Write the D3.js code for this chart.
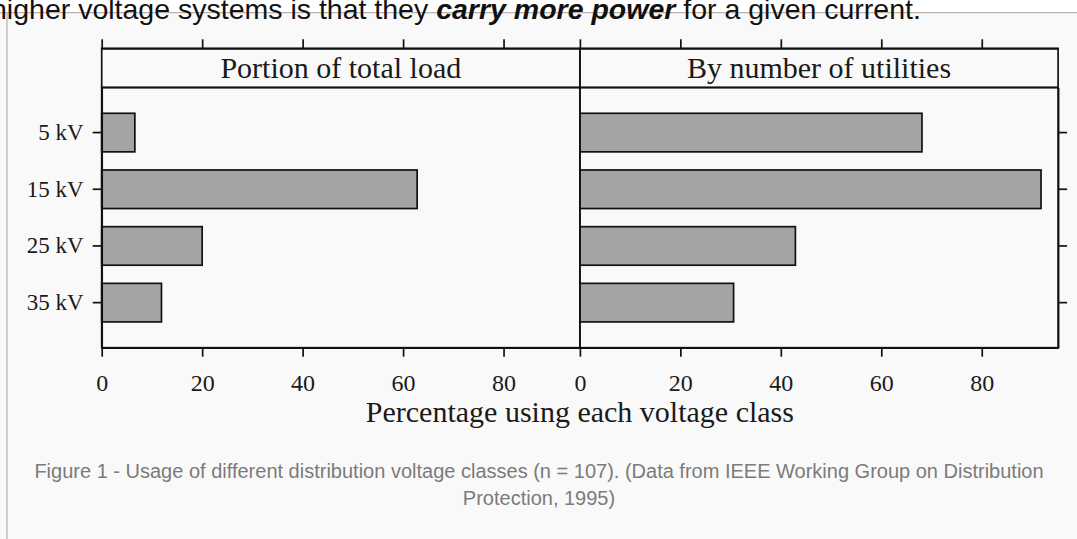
<!DOCTYPE html>
<html>
<head>
<meta charset="utf-8">
<script src="https://cdn.jsdelivr.net/npm/d3@7"></script>
<style>
  body { margin: 0; background: #f9f9f9; overflow: hidden; }
  svg { display: block; }
  .frame line, .frame path, .frame rect { stroke: #111; stroke-width: 1.7; }
  .tick text { font-family: 'Liberation Serif', 'Times New Roman', serif; }
</style>
</head>
<body>
<div id="chart"></div>
<script>
// data (percent)
const voltageClasses = ['5 kV', '15 kV', '25 kV', '35 kV']
const portionOfLoad = [6.6, 62.8, 20.0, 11.9]
const byUtilities = [68.1, 91.8, 42.9, 30.6]
const panelTitles = ['Portion of total load', 'By number of utilities']
const xTicks = [0, 20, 40, 60, 80]

const width = 1077,
  height = 539

const plotLeft = 101.7,
  panelWidth = 478.2,
  stripTop = 48.3,
  stripBottom = 87.5,
  plotBottom = 347.7

const serif = "'Liberation Serif', 'Times New Roman', serif"
const sans = "'Liberation Sans', Arial, sans-serif"

let svg = d3.select('#chart')
  .append('svg')
  .attr('width', width)
  .attr('height', height)

// page bits around the figure
svg.append('rect')
  .attr('width', width)
  .attr('height', 12.7)
  .attr('fill', '#ffffff')
svg.append('line')
  .attr('x1', 0).attr('x2', width)
  .attr('y1', 12.7).attr('y2', 12.7)
  .attr('stroke', '#bcb4ac')
  .attr('stroke-width', 1.3)
svg.append('line')
  .attr('x1', 7).attr('x2', 7)
  .attr('y1', 12.7).attr('y2', height)
  .attr('stroke', '#bcb4ac')
  .attr('stroke-width', 1.3)

// tail of the paragraph above the figure (cut at the top, as in the page)
let lead = svg.append('text')
  .attr('x', -9)
  .attr('y', 18.5)
  .attr('font-family', sans)
  .attr('font-size', 28.5)
  .attr('fill', '#111')
lead.append('tspan').text('higher voltage systems is that they ')
lead.append('tspan').attr('font-weight', 'bold').attr('font-style', 'italic').text('carry more power')
lead.append('tspan').text(' for a given current.')

// shared y band scale
let y = d3.scaleBand()
  .domain(voltageClasses)
  .range([stripBottom, plotBottom])
  .paddingInner(0.32)
  .paddingOuter(0.455)

let panels = [portionOfLoad, byUtilities]

panels.forEach((values, p) => {
  let x0 = plotLeft + p * panelWidth
  let x = d3.scaleLinear()
    .domain([0, 95.2])
    .range([x0, x0 + panelWidth])

  let g = svg.append('g').attr('class', 'frame')

  // bars
  g.selectAll('rect.bar')
    .data(values)
    .enter()
    .append('rect')
    .attr('class', 'bar')
    .attr('x', x(0))
    .attr('y', (d, i) => y(voltageClasses[i]))
    .attr('width', d => x(d) - x(0))
    .attr('height', y.bandwidth())
    .attr('fill', '#a4a4a4')

  // strip header
  g.append('rect')
    .attr('x', x0)
    .attr('y', stripTop)
    .attr('width', panelWidth)
    .attr('height', stripBottom - stripTop)
    .attr('fill', 'none')
  g.append('text')
    .attr('x', x0 + panelWidth / 2)
    .attr('y', 78.3)
    .attr('text-anchor', 'middle')
    .attr('font-family', serif)
    .attr('font-size', 30)
    .attr('fill', '#1a1a1a')
    .style('stroke', 'none')
    .text(panelTitles[p])

  // panel box
  g.append('rect')
    .attr('x', x0)
    .attr('y', stripBottom)
    .attr('width', panelWidth)
    .attr('height', plotBottom - stripBottom)
    .attr('fill', 'none')

  // bottom axis with labels
  let bottom = g.append('g')
    .attr('transform', `translate(0, ${plotBottom})`)
    .call(d3.axisBottom(x).tickValues(xTicks).tickSize(9).tickSizeOuter(0).tickPadding(17))
  bottom.selectAll('text')
    .attr('font-size', 24)
    .attr('fill', '#1a1a1a')
    .attr('font-family', serif)

  // top ticks, no labels
  g.append('g')
    .attr('transform', `translate(0, ${stripTop})`)
    .call(d3.axisTop(x).tickValues(xTicks).tickSize(9).tickSizeOuter(0).tickFormat(''))

  if (p === 0) {
    let left = g.append('g')
      .attr('transform', `translate(${x0}, 0)`)
      .call(d3.axisLeft(y).tickSize(9).tickSizeOuter(0).tickPadding(9))
    left.selectAll('text')
      .attr('font-size', 23)
      .attr('fill', '#1a1a1a')
      .attr('font-family', serif)
  } else {
    g.append('g')
      .attr('transform', `translate(${x0 + panelWidth}, 0)`)
      .call(d3.axisRight(y).tickSize(9).tickSizeOuter(0).tickFormat(''))
  }
})

svg.selectAll('.frame path.domain').attr('stroke', '#111').attr('stroke-width', 1.7)
svg.selectAll('.frame .tick line').attr('stroke', '#111').attr('stroke-width', 1.7)
svg.selectAll('.frame .tick text').style('stroke', 'none')

// axis title
svg.append('text')
  .attr('x', plotLeft + panelWidth)
  .attr('y', 422)
  .attr('text-anchor', 'middle')
  .attr('font-family', serif)
  .attr('font-size', 30)
  .attr('fill', '#1a1a1a')
  .text('Percentage using each voltage class')

// figure caption
const captionLines = [
  'Figure 1 - Usage of different distribution voltage classes (n = 107). (Data from IEEE Working Group on Distribution',
  'Protection, 1995)'
]
svg.selectAll('text.caption')
  .data(captionLines)
  .enter()
  .append('text')
  .attr('class', 'caption')
  .attr('x', 539)
  .attr('y', (d, i) => 478 + i * 27)
  .attr('text-anchor', 'middle')
  .attr('font-family', sans)
  .attr('font-size', 20)
  .attr('fill', '#7b7b7b')
  .text(d => d)
</script>
</body>
</html>
